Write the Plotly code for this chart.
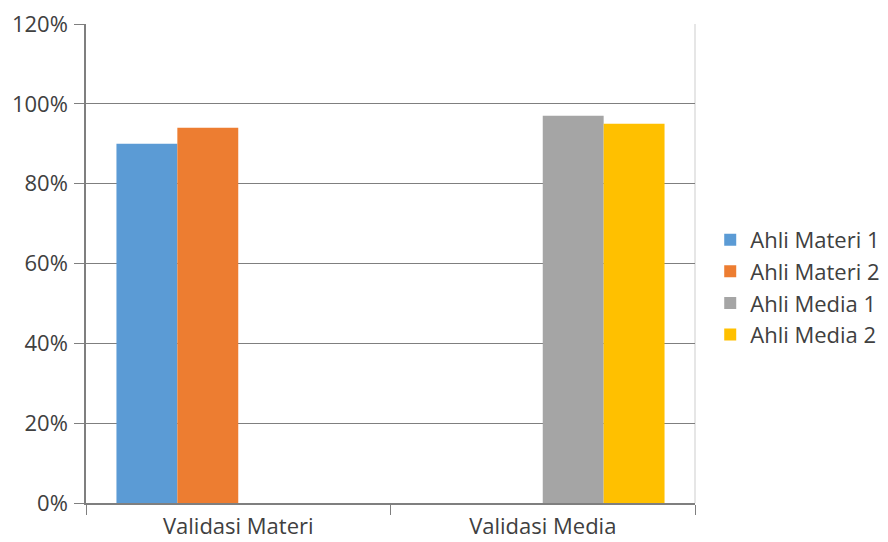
import plotly.graph_objects as go

categories = ["Validasi Materi", "Validasi Media"]
series_names = ["Ahli Materi 1", "Ahli Materi 2", "Ahli Media 1", "Ahli Media 2"]
ahli_materi_1 = [0.90, None]
ahli_materi_2 = [0.94, None]
ahli_media_1 = [None, 0.97]
ahli_media_2 = [None, 0.95]
colors = ["#5B9BD5", "#ED7D31", "#A5A5A5", "#FFC000"]
y_ticks = [0, 0.2, 0.4, 0.6, 0.8, 1.0, 1.2]

series_values = [ahli_materi_1, ahli_materi_2, ahli_media_1, ahli_media_2]

FONT = "Open Sans"
fig = go.Figure()
for name, vals, col in zip(series_names, series_values, colors):
    fig.add_trace(go.Bar(x=categories, y=vals, name=name,
                         marker=dict(color=col, line=dict(width=0))))

fig.update_layout(
    width=888, height=542,
    margin=dict(l=86, r=193, t=24, b=39, autoexpand=False),
    paper_bgcolor="white", plot_bgcolor="white",
    barmode="group", bargap=0.2, bargroupgap=0,
    font=dict(family=FONT, size=22, color="#404040"),
    legend=dict(x=1.025, xanchor="left", y=0.45, yanchor="middle",
                font=dict(family=FONT, size=22, color="#404040"),
                tracegroupgap=0, itemwidth=30, bgcolor="rgba(0,0,0,0)"),
    showlegend=True,
)
fig.update_yaxes(range=[0, 1.2], tickvals=y_ticks, tickformat=".0%",
                 showgrid=True, gridcolor="#7F7F7F", gridwidth=1.3,
                 showline=True, linecolor="#7F7F7F", linewidth=1.5,
                 ticks="outside", ticklen=10, tickcolor="#7F7F7F", tickwidth=1.3,
                 zeroline=False, automargin=False, ticklabelstandoff=2)
fig.update_xaxes(showline=True, linecolor="#7F7F7F", linewidth=1.5,
                 ticks="outside", tickson="boundaries", ticklen=10,
                 tickcolor="#7F7F7F", tickwidth=1.3, showgrid=False,
                 automargin=False, ticklabelstandoff=3)
fig.add_shape(type="line", xref="paper", yref="paper", x0=1, x1=1, y0=0, y1=1,
              line=dict(color="#D9D9D9", width=1.3), layer="below")

fig.write_html("out.html")
